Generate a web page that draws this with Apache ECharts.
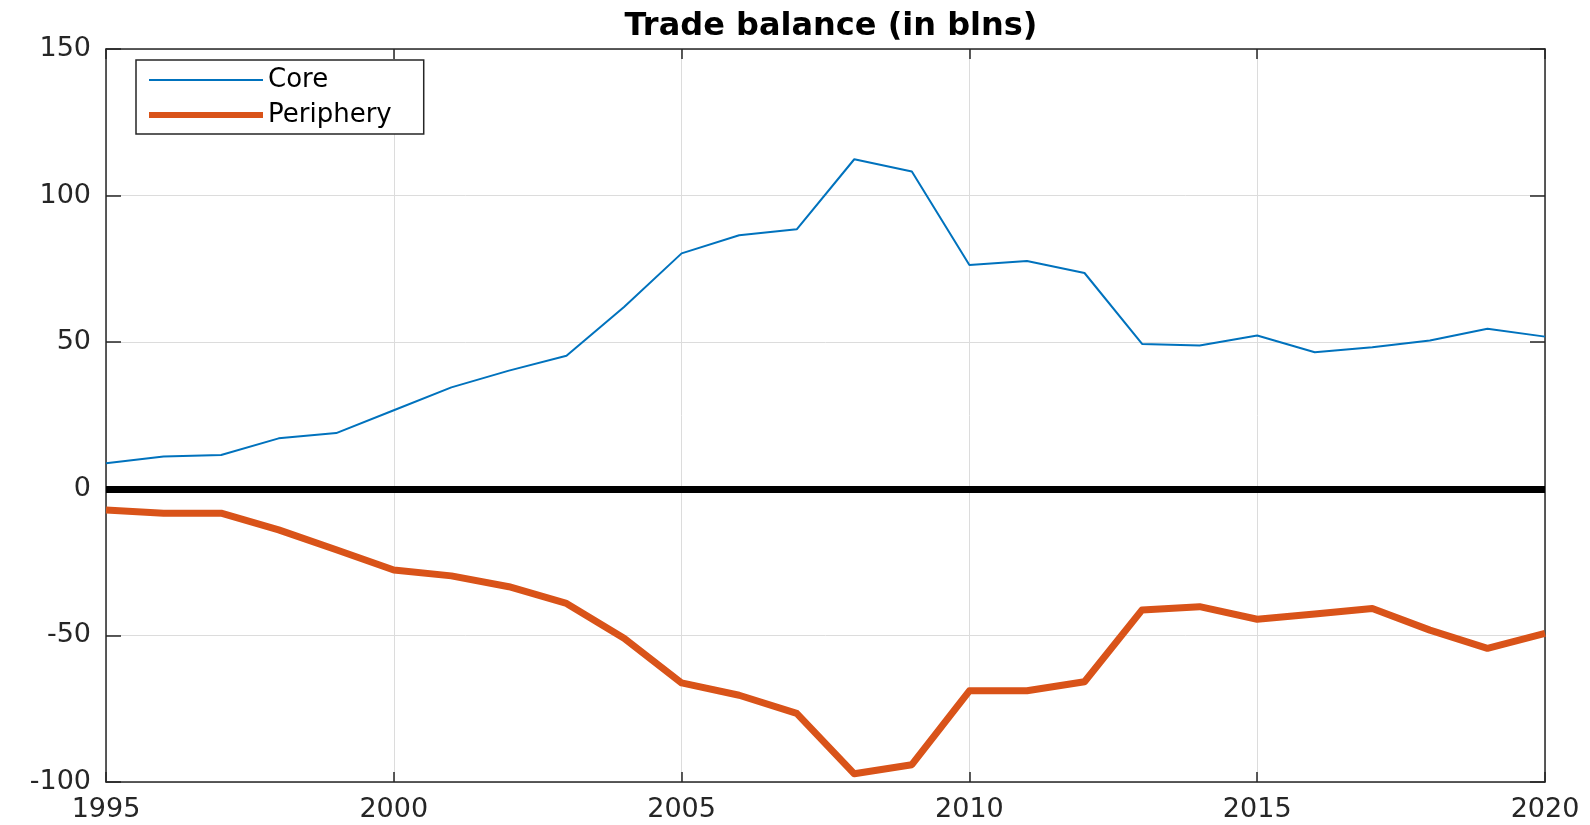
<!DOCTYPE html>
<html>
<head>
<meta charset="utf-8">
<script src="https://cdn.jsdelivr.net/npm/echarts@6/dist/echarts.min.js"></script>
<style>html,body{margin:0;padding:0;background:#fff}#c{width:1590px;height:825px}</style>
</head>
<body>
<div id="c"></div>
<script>
const years = [1995,1996,1997,1998,1999,2000,2001,2002,2003,2004,2005,2006,2007,2008,2009,2010,2011,2012,2013,2014,2015,2016,2017,2018,2019,2020];
const core = [8.7,11.0,11.5,17.2,19.0,26.8,34.6,40.3,45.4,62.0,80.3,86.5,88.5,112.4,108.2,76.3,77.7,73.6,49.4,48.9,52.3,46.6,48.3,50.6,54.6,51.9];
const periphery = [-7.2,-8.3,-8.3,-14.0,-20.8,-27.7,-29.7,-33.4,-39.1,-51.0,-66.2,-70.4,-76.6,-97.2,-94.1,-68.9,-68.9,-65.8,-41.3,-40.2,-44.5,-42.7,-40.8,-48.2,-54.4,-49.3];
const xTicks = [1995,2000,2005,2010,2015,2020];
const yTicks = [-100,-50,0,50,100,150];
const titleText = 'Trade balance (in blns)';
const seriesNames = ['Core','Periphery'];

const chart = echarts.init(document.getElementById('c'));
const axisColor = '#262626';
const font = 'DejaVu Sans';
const coreColor = '#0072BD';
const periColor = '#D95319';
const xInterval = xTicks[1]-xTicks[0];
const yInterval = yTicks[1]-yTicks[0];
const xBase = {
  type:'value', min:xTicks[0], max:xTicks[xTicks.length-1], interval:xInterval,
  axisLine:{show:true,onZero:false,lineStyle:{color:axisColor,width:1.5}},
  axisTick:{show:true,inside:true,length:10,lineStyle:{color:axisColor,width:1.5}},
  splitLine:{show:false}
};
const yBase = {
  type:'value', min:yTicks[0], max:yTicks[yTicks.length-1], interval:yInterval,
  axisLine:{show:true,onZero:false,lineStyle:{color:axisColor,width:1.5}},
  axisTick:{show:true,inside:true,length:15,lineStyle:{color:axisColor,width:1.5}},
  splitLine:{show:false}
};
chart.setOption({
  backgroundColor:'#fff',
  animation:false,
  title:{text:titleText,left:826,top:6,textAlign:'center',
    textStyle:{fontFamily:font,fontWeight:'bold',fontSize:32,color:'#000'}},
  legend:{
    orient:'vertical',left:136,top:60,
    data:[
      {name:seriesNames[0],itemStyle:{opacity:0},lineStyle:{width:2,color:coreColor}},
      {name:seriesNames[1],itemStyle:{opacity:0},lineStyle:{width:6,color:periColor}}
    ],
    backgroundColor:'#fff',borderColor:axisColor,borderWidth:1.5,borderRadius:0,
    padding:[7,32,6,10],itemGap:9,itemWidth:114,itemHeight:14,itemTextGap:10,
    textStyle:{fontFamily:font,fontSize:26,color:'#000',lineHeight:26}
  },
  grid:{left:106,right:45,top:49,bottom:43,containLabel:false},
  xAxis:[
    Object.assign({},xBase,{position:'bottom',
      axisLabel:{show:true,margin:14,fontFamily:font,fontSize:27,color:axisColor,formatter:v=>String(v)},
      splitLine:{show:true,lineStyle:{color:'#dcdcdc',width:1}}}),
    Object.assign({},xBase,{position:'top',axisLabel:{show:false}})
  ],
  yAxis:[
    Object.assign({},yBase,{position:'left',
      axisLabel:{show:true,margin:15,fontFamily:font,fontSize:27,color:axisColor},
      splitLine:{show:true,lineStyle:{color:'#dcdcdc',width:1}}}),
    Object.assign({},yBase,{position:'right',axisLabel:{show:false}})
  ],
  series:[
    {name:seriesNames[0],type:'line',xAxisIndex:0,yAxisIndex:0,symbol:'none',
      data:years.map((y,i)=>[y,core[i]]),
      lineStyle:{color:coreColor,width:2},itemStyle:{color:coreColor},z:3},
    {name:seriesNames[1],type:'line',xAxisIndex:0,yAxisIndex:0,symbol:'none',
      data:years.map((y,i)=>[y,periphery[i]]),
      lineStyle:{color:periColor,width:7,join:'round'},itemStyle:{color:periColor},z:3,
      markLine:{silent:true,symbol:'none',label:{show:false},
        lineStyle:{color:'#000',width:7,type:'solid'},
        data:[{yAxis:0}]}}
  ]
});
</script>
</body>
</html>
